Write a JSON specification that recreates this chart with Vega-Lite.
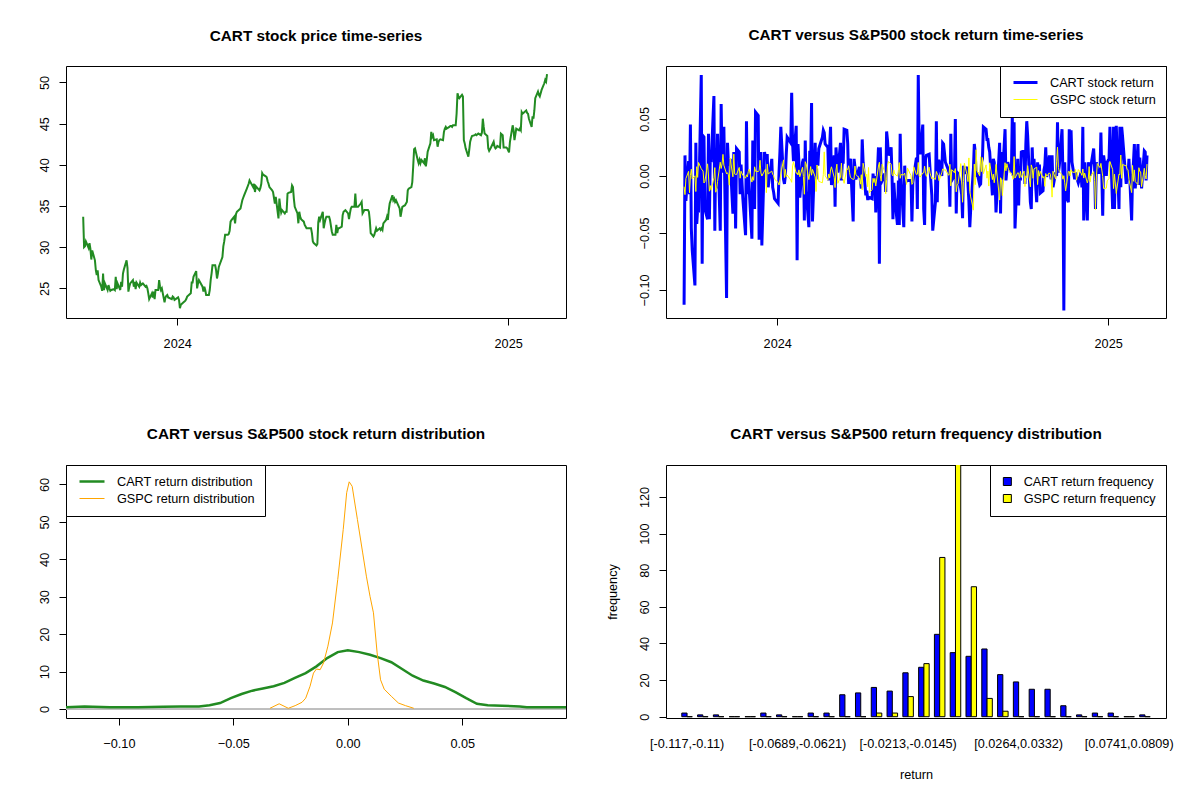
{
  "$schema": "https://vega.github.io/schema/vega-lite/v6.json",
  "background": "white",
  "padding": {"left": 37, "top": 27, "right": 5, "bottom": 5},
  "bounds": "flush",
  "columns": 2,
  "spacing": {"row": 147, "column": 100},
  "resolve": {
    "scale": {"x": "independent", "y": "independent", "color": "independent", "strokeWidth": "independent", "xOffset": "independent"},
    "legend": {"color": "independent", "strokeWidth": "independent"}
  },
  "config": {
    "font": "Liberation Sans",
    "view": {"stroke": "black", "strokeWidth": 1, "fill": "white"},
    "axis": {
      "grid": false, "domain": false, "tickColor": "black", "tickSize": 7, "tickWidth": 1,
      "labelColor": "black", "labelFont": "Liberation Sans", "labelFontSize": 12.7,
      "titleFont": "Liberation Sans", "titleFontSize": 12.7, "titleFontWeight": "normal", "titleColor": "black",
      "labelOverlap": false, "labelFlush": false
    },
    "axisX": {"labelPadding": 12, "labelAngle": 0},
    "axisY": {"labelAngle": -90, "labelAlign": "center", "labelBaseline": "alphabetic", "labelPadding": 11},
    "title": {"font": "Liberation Sans", "fontSize": 15.3, "fontWeight": "bold", "color": "black", "anchor": "middle", "frame": "group", "offset": 22},
    "legend": {
      "labelFont": "Liberation Sans", "labelFontSize": 12.7, "labelColor": "black", "labelLimit": 300,
      "strokeColor": "black", "fillColor": "white", "padding": 10, "offset": 0,
      "rowPadding": 3, "labelOffset": 11, "symbolOffset": 2, "clipHeight": 13
    }
  },
  "datasets": {
    "daily": [
      {"d":"2023-09-19","p":33.7,"c":null,"g":null},
      {"d":"2023-09-20","p":30.0,"c":-0.113,"g":-0.0094},
      {"d":"2023-09-21","p":30.1,"c":0.018,"g":-0.0164},
      {"d":"2023-09-22","p":30.7,"c":-0.022,"g":-0.0023},
      {"d":"2023-09-25","p":29.9,"c":0.013,"g":0.0040},
      {"d":"2023-09-26","p":30.5,"c":-0.016,"g":-0.0147},
      {"d":"2023-09-27","p":29.8,"c":0.045,"g":0.0002},
      {"d":"2023-09-28","p":28.5,"c":-0.046,"g":0.0059},
      {"d":"2023-09-29","p":29.6,"c":-0.065,"g":-0.0027},
      {"d":"2023-10-02","p":28.4,"c":-0.096,"g":0.0001},
      {"d":"2023-10-03","p":27.2,"c":0.029,"g":-0.0137},
      {"d":"2023-10-04","p":26.6,"c":-0.042,"g":0.0081},
      {"d":"2023-10-05","p":27.2,"c":-0.029,"g":-0.0013},
      {"d":"2023-10-06","p":26.0,"c":-0.032,"g":0.0118},
      {"d":"2023-10-09","p":25.2,"c":0.0885,"g":0.0063},
      {"d":"2023-10-10","p":24.7,"c":-0.077,"g":0.0052},
      {"d":"2023-10-11","p":26.8,"c":0.035,"g":0.0043},
      {"d":"2023-10-12","p":24.8,"c":0.034,"g":-0.0062},
      {"d":"2023-10-13","p":25.6,"c":-0.029,"g":-0.0050},
      {"d":"2023-10-16","p":24.8,"c":-0.038,"g":0.0106},
      {"d":"2023-10-17","p":25.4,"c":0.037,"g":-0.0001},
      {"d":"2023-10-18","p":25.0,"c":-0.038,"g":-0.0134},
      {"d":"2023-10-19","p":24.7,"c":0.018,"g":-0.0085},
      {"d":"2023-10-20","p":24.8,"c":0.012,"g":-0.0126},
      {"d":"2023-10-23","p":24.9,"c":0.070,"g":-0.0017},
      {"d":"2023-10-24","p":24.8,"c":-0.048,"g":0.0073},
      {"d":"2023-10-25","p":26.4,"c":0.024,"g":-0.0143},
      {"d":"2023-10-26","p":24.9,"c":-0.011,"g":-0.0118},
      {"d":"2023-10-27","p":25.6,"c":0.037,"g":-0.0048},
      {"d":"2023-10-30","p":24.8,"c":-0.048,"g":0.0120},
      {"d":"2023-10-31","p":25.8,"c":0.063,"g":0.0065},
      {"d":"2023-11-01","p":25.2,"c":0.012,"g":0.0105},
      {"d":"2023-11-02","p":26.8,"c":0.003,"g":0.0189},
      {"d":"2023-11-03","p":27.3,"c":0.043,"g":0.0094},
      {"d":"2023-11-06","p":28.4,"c":-0.107,"g":0.0018},
      {"d":"2023-11-07","p":27.5,"c":0.029,"g":0.0028},
      {"d":"2023-11-08","p":24.6,"c":0.012,"g":0.0010},
      {"d":"2023-11-09","p":25.2,"c":0.009,"g":-0.0081},
      {"d":"2023-11-10","p":25.6,"c":0.015,"g":0.0156},
      {"d":"2023-11-13","p":26.0,"c":-0.033,"g":-0.0008},
      {"d":"2023-11-14","p":25.2,"c":0.021,"g":0.0191},
      {"d":"2023-11-15","p":25.8,"c":0.015,"g":0.0016},
      {"d":"2023-11-16","p":24.9,"c":-0.046,"g":0.0012},
      {"d":"2023-11-17","p":25.7,"c":0.024,"g":0.0013},
      {"d":"2023-11-20","p":25.2,"c":0.021,"g":0.0074},
      {"d":"2023-11-21","p":25.7,"c":-0.016,"g":-0.0020},
      {"d":"2023-11-22","p":25.4,"c":0.010,"g":0.0041},
      {"d":"2023-11-24","p":25.6,"c":-0.020,"g":0.0006},
      {"d":"2023-11-27","p":25.2,"c":-0.052,"g":-0.0020},
      {"d":"2023-11-28","p":25.3,"c":0.048,"g":0.0010},
      {"d":"2023-11-29","p":25.0,"c":-0.016,"g":-0.0009},
      {"d":"2023-11-30","p":24.4,"c":0.005,"g":0.0038},
      {"d":"2023-12-01","p":23.7,"c":-0.011,"g":0.0059},
      {"d":"2023-12-04","p":24.4,"c":-0.055,"g":-0.0054},
      {"d":"2023-12-05","p":23.9,"c":0.031,"g":-0.0006},
      {"d":"2023-12-06","p":24.6,"c":0.006,"g":-0.0039},
      {"d":"2023-12-07","p":23.7,"c":-0.029,"g":0.0080},
      {"d":"2023-12-08","p":24.8,"c":0.056,"g":0.0041},
      {"d":"2023-12-11","p":24.8,"c":0.053,"g":0.0039},
      {"d":"2023-12-12","p":26.0,"c":-0.056,"g":0.0046},
      {"d":"2023-12-13","p":25.2,"c":-0.029,"g":0.0137},
      {"d":"2023-12-14","p":24.8,"c":0.021,"g":0.0026},
      {"d":"2023-12-15","p":25.0,"c":-0.061,"g":-0.0001},
      {"d":"2023-12-18","p":23.3,"c":0.021,"g":0.0045},
      {"d":"2023-12-19","p":23.9,"c":0.015,"g":0.0059},
      {"d":"2023-12-20","p":24.1,"c":0.018,"g":-0.0147},
      {"d":"2023-12-21","p":24.2,"c":0.018,"g":0.0103},
      {"d":"2023-12-22","p":23.9,"c":-0.010,"g":0.0017},
      {"d":"2023-12-26","p":23.7,"c":0.015,"g":0.0042},
      {"d":"2023-12-27","p":24.0,"c":-0.010,"g":0.0014},
      {"d":"2023-12-28","p":23.9,"c":-0.014,"g":0.0004},
      {"d":"2023-12-29","p":23.6,"c":-0.020,"g":-0.0028},
      {"d":"2024-01-02","p":23.9,"c":-0.024,"g":-0.0057},
      {"d":"2024-01-03","p":23.6,"c":0.003,"g":-0.0080},
      {"d":"2024-01-04","p":22.6,"c":0.021,"g":-0.0034},
      {"d":"2024-01-05","p":23.0,"c":0.043,"g":0.0018},
      {"d":"2024-01-08","p":23.3,"c":-0.003,"g":0.0141},
      {"d":"2024-01-09","p":23.4,"c":-0.007,"g":-0.0015},
      {"d":"2024-01-10","p":23.5,"c":0.0,"g":0.0057},
      {"d":"2024-01-11","p":23.7,"c":0.019,"g":-0.0007},
      {"d":"2024-01-12","p":24.0,"c":0.034,"g":0.0008},
      {"d":"2024-01-16","p":24.4,"c":0.029,"g":-0.0037},
      {"d":"2024-01-17","p":25.7,"c":0.073,"g":-0.0056},
      {"d":"2024-01-18","p":25.7,"c":0.029,"g":0.0088},
      {"d":"2024-01-19","p":26.4,"c":0.013,"g":0.0123},
      {"d":"2024-01-22","p":27.1,"c":0.044,"g":0.0022},
      {"d":"2024-01-23","p":25.0,"c":-0.074,"g":0.0029},
      {"d":"2024-01-24","p":25.6,"c":0.028,"g":0.0008},
      {"d":"2024-01-25","p":26.0,"c":0.012,"g":0.0053},
      {"d":"2024-01-26","p":25.8,"c":-0.019,"g":-0.0007},
      {"d":"2024-01-29","p":25.2,"c":0.012,"g":0.0076},
      {"d":"2024-01-30","p":24.6,"c":0.015,"g":-0.0006},
      {"d":"2024-01-31","p":25.2,"c":-0.039,"g":-0.0161},
      {"d":"2024-02-01","p":24.8,"c":0.031,"g":0.0125},
      {"d":"2024-02-02","p":24.2,"c":-0.013,"g":0.0107},
      {"d":"2024-02-05","p":24.2,"c":-0.045,"g":-0.0032},
      {"d":"2024-02-06","p":24.8,"c":0.022,"g":0.0023},
      {"d":"2024-02-07","p":26.0,"c":0.012,"g":0.0082},
      {"d":"2024-02-08","p":26.8,"c":0.064,"g":0.0006},
      {"d":"2024-02-09","p":27.8,"c":-0.040,"g":0.0057},
      {"d":"2024-02-12","p":27.8,"c":0.029,"g":-0.0009},
      {"d":"2024-02-13","p":27.2,"c":-0.003,"g":-0.0137},
      {"d":"2024-02-14","p":26.2,"c":0.021,"g":0.0096},
      {"d":"2024-02-15","p":26.8,"c":0.009,"g":0.0058},
      {"d":"2024-02-16","p":27.6,"c":0.024,"g":-0.0048},
      {"d":"2024-02-20","p":28.8,"c":0.034,"g":-0.0060},
      {"d":"2024-02-21","p":30.1,"c":0.040,"g":0.0013},
      {"d":"2024-02-22","p":30.7,"c":0.038,"g":0.0211},
      {"d":"2024-02-23","p":31.5,"c":0.028,"g":0.0003},
      {"d":"2024-02-26","p":31.5,"c":0.025,"g":-0.0038},
      {"d":"2024-02-27","p":31.6,"c":-0.004,"g":0.0017},
      {"d":"2024-02-28","p":32.0,"c":0.026,"g":-0.0017},
      {"d":"2024-02-29","p":33.1,"c":0.043,"g":0.0052},
      {"d":"2024-03-01","p":33.3,"c":-0.008,"g":0.0080},
      {"d":"2024-03-04","p":33.7,"c":0.018,"g":-0.0012},
      {"d":"2024-03-05","p":32.9,"c":-0.027,"g":-0.0102},
      {"d":"2024-03-06","p":34.0,"c":0.025,"g":0.0051},
      {"d":"2024-03-07","p":34.3,"c":0.012,"g":0.0103},
      {"d":"2024-03-08","p":34.4,"c":0.003,"g":-0.0065},
      {"d":"2024-03-11","p":34.7,"c":0.029,"g":-0.0011},
      {"d":"2024-03-12","p":35.2,"c":-0.004,"g":0.0112},
      {"d":"2024-03-13","p":35.7,"c":0.012,"g":-0.0019},
      {"d":"2024-03-14","p":36.0,"c":0.012,"g":-0.0029},
      {"d":"2024-03-15","p":36.3,"c":0.041,"g":-0.0065},
      {"d":"2024-03-18","p":37.1,"c":0.040,"g":0.0063},
      {"d":"2024-03-19","p":37.4,"c":0.028,"g":0.0056},
      {"d":"2024-03-20","p":37.7,"c":-0.007,"g":0.0089},
      {"d":"2024-03-21","p":38.1,"c":0.013,"g":0.0032},
      {"d":"2024-03-22","p":37.9,"c":0.015,"g":-0.0014},
      {"d":"2024-03-25","p":37.3,"c":-0.040,"g":-0.0031},
      {"d":"2024-03-26","p":37.7,"c":0.015,"g":-0.0028},
      {"d":"2024-03-27","p":36.7,"c":0.008,"g":0.0086},
      {"d":"2024-03-28","p":37.4,"c":-0.003,"g":0.0011},
      {"d":"2024-04-01","p":36.9,"c":0.008,"g":-0.0020},
      {"d":"2024-04-02","p":37.2,"c":-0.004,"g":-0.0072},
      {"d":"2024-04-03","p":37.7,"c":-0.011,"g":0.0011},
      {"d":"2024-04-04","p":39.0,"c":0.032,"g":-0.0123},
      {"d":"2024-04-05","p":38.8,"c":0.012,"g":0.0111},
      {"d":"2024-04-08","p":38.6,"c":-0.017,"g":-0.0004},
      {"d":"2024-04-09","p":38.5,"c":-0.013,"g":0.0014},
      {"d":"2024-04-10","p":38.0,"c":-0.020,"g":-0.0095},
      {"d":"2024-04-11","p":37.7,"c":-0.020,"g":0.0074},
      {"d":"2024-04-12","p":37.3,"c":-0.019,"g":-0.0146},
      {"d":"2024-04-15","p":36.9,"c":-0.020,"g":-0.0120},
      {"d":"2024-04-16","p":36.7,"c":0.002,"g":-0.0021},
      {"d":"2024-04-17","p":36.0,"c":-0.006,"g":-0.0058},
      {"d":"2024-04-18","p":35.3,"c":0.0,"g":-0.0022},
      {"d":"2024-04-19","p":36.1,"c":-0.032,"g":-0.0088},
      {"d":"2024-04-22","p":33.5,"c":0.025,"g":0.0087},
      {"d":"2024-04-23","p":35.9,"c":-0.077,"g":0.0120},
      {"d":"2024-04-24","p":34.9,"c":0.025,"g":0.0002},
      {"d":"2024-04-25","p":34.2,"c":-0.001,"g":-0.0046},
      {"d":"2024-04-26","p":34.5,"c":-0.004,"g":0.0102},
      {"d":"2024-04-29","p":34.1,"c":0.002,"g":0.0032},
      {"d":"2024-04-30","p":34.3,"c":-0.014,"g":-0.0157},
      {"d":"2024-05-01","p":34.3,"c":0.039,"g":-0.0034},
      {"d":"2024-05-02","p":36.5,"c":0.031,"g":0.0091},
      {"d":"2024-05-03","p":36.6,"c":0.018,"g":0.0126},
      {"d":"2024-05-06","p":36.7,"c":0.025,"g":0.0103},
      {"d":"2024-05-07","p":37.5,"c":0.0,"g":0.0013},
      {"d":"2024-05-08","p":37.3,"c":-0.038,"g":0.0000},
      {"d":"2024-05-09","p":35.9,"c":-0.006,"g":0.0051},
      {"d":"2024-05-10","p":34.9,"c":-0.019,"g":0.0016},
      {"d":"2024-05-13","p":34.1,"c":-0.043,"g":-0.0002},
      {"d":"2024-05-14","p":32.9,"c":-0.004,"g":0.0048},
      {"d":"2024-05-15","p":34.3,"c":-0.043,"g":0.0117},
      {"d":"2024-05-16","p":33.7,"c":0.037,"g":-0.0021},
      {"d":"2024-05-17","p":33.4,"c":-0.003,"g":0.0012},
      {"d":"2024-05-20","p":33.1,"c":-0.045,"g":0.0009},
      {"d":"2024-05-21","p":32.7,"c":0.009,"g":0.0025},
      {"d":"2024-05-22","p":32.5,"c":-0.006,"g":-0.0027},
      {"d":"2024-05-23","p":32.3,"c":-0.004,"g":-0.0074},
      {"d":"2024-05-24","p":32.3,"c":-0.004,"g":0.0070},
      {"d":"2024-05-28","p":32.3,"c":-0.004,"g":0.0002},
      {"d":"2024-05-29","p":31.7,"c":-0.040,"g":-0.0074},
      {"d":"2024-05-30","p":30.7,"c":-0.006,"g":-0.0060},
      {"d":"2024-05-31","p":30.5,"c":0.0,"g":0.0080},
      {"d":"2024-06-03","p":30.2,"c":0.016,"g":0.0011},
      {"d":"2024-06-04","p":30.4,"c":-0.029,"g":0.0015},
      {"d":"2024-06-05","p":33.0,"c":0.0885,"g":0.0118},
      {"d":"2024-06-06","p":33.7,"c":0.026,"g":-0.0002},
      {"d":"2024-06-07","p":33.3,"c":0.019,"g":-0.0011},
      {"d":"2024-06-10","p":34.3,"c":0.045,"g":0.0026},
      {"d":"2024-06-11","p":32.3,"c":-0.029,"g":0.0027},
      {"d":"2024-06-12","p":32.9,"c":-0.043,"g":0.0085},
      {"d":"2024-06-13","p":33.4,"c":0.015,"g":0.0023},
      {"d":"2024-06-14","p":33.7,"c":0.018,"g":-0.0004},
      {"d":"2024-06-17","p":33.7,"c":0.019,"g":0.0077},
      {"d":"2024-06-18","p":33.3,"c":0.006,"g":0.0025},
      {"d":"2024-06-20","p":31.9,"c":-0.017,"g":-0.0025},
      {"d":"2024-06-21","p":31.5,"c":-0.048,"g":-0.0016},
      {"d":"2024-06-24","p":31.5,"c":-0.023,"g":-0.0031},
      {"d":"2024-06-25","p":32.7,"c":0.048,"g":0.0039},
      {"d":"2024-06-26","p":31.7,"c":-0.023,"g":0.0016},
      {"d":"2024-06-27","p":32.3,"c":0.013,"g":0.0009},
      {"d":"2024-06-28","p":32.3,"c":0.013,"g":-0.0041},
      {"d":"2024-07-01","p":32.5,"c":0.0,"g":0.0027},
      {"d":"2024-07-02","p":33.9,"c":0.029,"g":0.0062},
      {"d":"2024-07-03","p":34.3,"c":0.028,"g":0.0051},
      {"d":"2024-07-05","p":34.5,"c":0.012,"g":0.0054},
      {"d":"2024-07-08","p":34.1,"c":0.006,"g":0.0010},
      {"d":"2024-07-09","p":33.4,"c":0.003,"g":0.0007},
      {"d":"2024-07-10","p":34.1,"c":-0.027,"g":0.0102},
      {"d":"2024-07-11","p":34.7,"c":0.037,"g":-0.0088},
      {"d":"2024-07-12","p":34.9,"c":-0.004,"g":0.0055},
      {"d":"2024-07-15","p":34.9,"c":0.0,"g":0.0028},
      {"d":"2024-07-16","p":36.5,"c":0.050,"g":0.0064},
      {"d":"2024-07-17","p":34.9,"c":-0.033,"g":-0.0139},
      {"d":"2024-07-18","p":34.9,"c":0.003,"g":-0.0078},
      {"d":"2024-07-19","p":34.9,"c":0.002,"g":-0.0071},
      {"d":"2024-07-22","p":35.3,"c":-0.011,"g":0.0108},
      {"d":"2024-07-23","p":35.5,"c":-0.016,"g":-0.0016},
      {"d":"2024-07-24","p":34.1,"c":-0.037,"g":-0.0231},
      {"d":"2024-07-25","p":34.3,"c":0.009,"g":-0.0051},
      {"d":"2024-07-26","p":34.5,"c":0.002,"g":0.0111},
      {"d":"2024-07-29","p":34.5,"c":0.008,"g":0.0008},
      {"d":"2024-07-30","p":34.5,"c":-0.008,"g":-0.0050},
      {"d":"2024-07-31","p":34.3,"c":-0.022,"g":0.0158},
      {"d":"2024-08-01","p":33.3,"c":-0.045,"g":-0.0137},
      {"d":"2024-08-02","p":31.7,"c":-0.029,"g":-0.0184},
      {"d":"2024-08-05","p":31.3,"c":0.006,"g":-0.0300},
      {"d":"2024-08-06","p":31.5,"c":0.028,"g":0.0104},
      {"d":"2024-08-07","p":31.9,"c":0.021,"g":-0.0077},
      {"d":"2024-08-08","p":32.3,"c":-0.001,"g":0.0230},
      {"d":"2024-08-09","p":32.0,"c":0.003,"g":0.0047},
      {"d":"2024-08-12","p":32.3,"c":-0.008,"g":0.0000},
      {"d":"2024-08-13","p":32.1,"c":-0.007,"g":0.0168},
      {"d":"2024-08-14","p":32.3,"c":0.012,"g":0.0038},
      {"d":"2024-08-15","p":32.1,"c":0.015,"g":0.0161},
      {"d":"2024-08-16","p":32.9,"c":0.043,"g":0.0020},
      {"d":"2024-08-19","p":33.3,"c":0.041,"g":0.0097},
      {"d":"2024-08-20","p":33.7,"c":0.032,"g":-0.0020},
      {"d":"2024-08-21","p":33.3,"c":0.032,"g":0.0042},
      {"d":"2024-08-22","p":34.5,"c":0.025,"g":-0.0089},
      {"d":"2024-08-23","p":35.3,"c":0.021,"g":0.0115},
      {"d":"2024-08-26","p":36.3,"c":-0.017,"g":-0.0032},
      {"d":"2024-08-27","p":35.7,"c":0.015,"g":0.0016},
      {"d":"2024-08-28","p":35.9,"c":0.012,"g":-0.0060},
      {"d":"2024-08-29","p":35.5,"c":-0.004,"g":0.0000},
      {"d":"2024-08-30","p":35.7,"c":-0.032,"g":0.0101},
      {"d":"2024-09-03","p":34.7,"c":0.029,"g":-0.0212},
      {"d":"2024-09-04","p":33.7,"c":-0.033,"g":-0.0016},
      {"d":"2024-09-05","p":34.3,"c":0.021,"g":-0.0030},
      {"d":"2024-09-06","p":34.9,"c":-0.003,"g":-0.0173},
      {"d":"2024-09-09","p":35.1,"c":0.041,"g":0.0116},
      {"d":"2024-09-10","p":35.3,"c":-0.004,"g":0.0045},
      {"d":"2024-09-11","p":35.5,"c":0.005,"g":0.0107},
      {"d":"2024-09-12","p":36.9,"c":0.012,"g":0.0075},
      {"d":"2024-09-13","p":37.1,"c":0.009,"g":0.0054},
      {"d":"2024-09-16","p":37.3,"c":0.003,"g":0.0013},
      {"d":"2024-09-17","p":37.9,"c":0.053,"g":0.0003},
      {"d":"2024-09-18","p":39.8,"c":0.0,"g":-0.0029},
      {"d":"2024-09-19","p":41.9,"c":0.047,"g":0.0170},
      {"d":"2024-09-20","p":42.0,"c":-0.046,"g":-0.0019},
      {"d":"2024-09-23","p":40.6,"c":0.015,"g":0.0028},
      {"d":"2024-09-24","p":40.2,"c":-0.026,"g":0.0025},
      {"d":"2024-09-25","p":40.6,"c":0.003,"g":-0.0019},
      {"d":"2024-09-26","p":40.2,"c":-0.004,"g":0.0040},
      {"d":"2024-09-27","p":40.6,"c":0.021,"g":-0.0013},
      {"d":"2024-09-30","p":40.2,"c":0.022,"g":0.0042},
      {"d":"2024-10-01","p":40.8,"c":-0.007,"g":-0.0093},
      {"d":"2024-10-02","p":39.8,"c":0.028,"g":0.0001},
      {"d":"2024-10-03","p":40.6,"c":0.048,"g":-0.0017},
      {"d":"2024-10-04","p":41.6,"c":0.035,"g":0.0090},
      {"d":"2024-10-07","p":42.6,"c":-0.023,"g":-0.0096},
      {"d":"2024-10-08","p":44.0,"c":-0.029,"g":0.0097},
      {"d":"2024-10-09","p":43.4,"c":0.025,"g":0.0071},
      {"d":"2024-10-10","p":43.6,"c":0.002,"g":-0.0021},
      {"d":"2024-10-11","p":43.0,"c":0.015,"g":0.0061},
      {"d":"2024-10-14","p":43.1,"c":-0.023,"g":0.0077},
      {"d":"2024-10-15","p":42.2,"c":0.012,"g":-0.0076},
      {"d":"2024-10-16","p":42.8,"c":-0.006,"g":0.0047},
      {"d":"2024-10-17","p":43.0,"c":0.010,"g":-0.0002},
      {"d":"2024-10-18","p":43.1,"c":-0.015,"g":0.0040},
      {"d":"2024-10-21","p":43.0,"c":-0.013,"g":-0.0018},
      {"d":"2024-10-22","p":44.0,"c":0.005,"g":-0.0005},
      {"d":"2024-10-23","p":44.4,"c":0.009,"g":-0.0092},
      {"d":"2024-10-24","p":44.6,"c":0.025,"g":0.0021},
      {"d":"2024-10-25","p":44.4,"c":-0.001,"g":-0.0003},
      {"d":"2024-10-28","p":44.6,"c":0.018,"g":0.0027},
      {"d":"2024-10-29","p":44.7,"c":0.003,"g":0.0016},
      {"d":"2024-10-30","p":44.7,"c":-0.003,"g":-0.0033},
      {"d":"2024-10-31","p":44.6,"c":0.018,"g":-0.0186},
      {"d":"2024-11-01","p":44.8,"c":-0.010,"g":0.0041},
      {"d":"2024-11-04","p":44.8,"c":0.003,"g":-0.0028},
      {"d":"2024-11-05","p":46.2,"c":0.0,"g":0.0123},
      {"d":"2024-11-06","p":48.7,"c":0.047,"g":0.0253},
      {"d":"2024-11-07","p":48.3,"c":0.003,"g":0.0074},
      {"d":"2024-11-08","p":48.1,"c":0.009,"g":0.0038},
      {"d":"2024-11-11","p":48.5,"c":0.041,"g":0.0010},
      {"d":"2024-11-12","p":48.3,"c":0.002,"g":-0.0029},
      {"d":"2024-11-13","p":43.0,"c":-0.118,"g":0.0002},
      {"d":"2024-11-14","p":42.6,"c":0.012,"g":-0.0060},
      {"d":"2024-11-15","p":42.0,"c":-0.017,"g":-0.0132},
      {"d":"2024-11-18","p":41.0,"c":-0.023,"g":0.0039},
      {"d":"2024-11-19","p":41.8,"c":0.041,"g":0.0040},
      {"d":"2024-11-20","p":42.8,"c":0.012,"g":0.0000},
      {"d":"2024-11-21","p":43.2,"c":0.040,"g":0.0053},
      {"d":"2024-11-22","p":43.5,"c":0.012,"g":0.0035},
      {"d":"2024-11-25","p":43.6,"c":-0.003,"g":0.0030},
      {"d":"2024-11-26","p":43.7,"c":0.003,"g":0.0057},
      {"d":"2024-11-27","p":43.6,"c":-0.001,"g":-0.0038},
      {"d":"2024-11-29","p":43.8,"c":-0.006,"g":0.0056},
      {"d":"2024-12-02","p":43.6,"c":0.003,"g":0.0024},
      {"d":"2024-12-03","p":43.9,"c":-0.010,"g":0.0005},
      {"d":"2024-12-04","p":45.6,"c":0.043,"g":0.0061},
      {"d":"2024-12-05","p":44.6,"c":-0.039,"g":-0.0019},
      {"d":"2024-12-06","p":43.8,"c":0.012,"g":0.0025},
      {"d":"2024-12-09","p":43.5,"c":-0.039,"g":-0.0061},
      {"d":"2024-12-10","p":42.0,"c":0.012,"g":-0.0030},
      {"d":"2024-12-11","p":41.7,"c":0.002,"g":0.0082},
      {"d":"2024-12-12","p":41.9,"c":0.0,"g":-0.0054},
      {"d":"2024-12-13","p":42.1,"c":0.009,"g":0.0000},
      {"d":"2024-12-16","p":42.8,"c":0.024,"g":0.0038},
      {"d":"2024-12-17","p":42.2,"c":0.008,"g":-0.0039},
      {"d":"2024-12-18","p":42.0,"c":-0.029,"g":-0.0295},
      {"d":"2024-12-19","p":42.1,"c":0.012,"g":-0.0009},
      {"d":"2024-12-20","p":42.3,"c":0.003,"g":0.0109},
      {"d":"2024-12-23","p":42.1,"c":0.003,"g":0.0073},
      {"d":"2024-12-24","p":43.8,"c":0.038,"g":0.0110},
      {"d":"2024-12-26","p":43.6,"c":-0.035,"g":-0.0004},
      {"d":"2024-12-27","p":42.1,"c":0.018,"g":-0.0111},
      {"d":"2024-12-30","p":42.1,"c":0.0,"g":-0.0107},
      {"d":"2024-12-31","p":42.0,"c":0.012,"g":-0.0043},
      {"d":"2025-01-02","p":41.5,"c":0.015,"g":-0.0022},
      {"d":"2025-01-03","p":42.8,"c":0.043,"g":0.0126},
      {"d":"2025-01-06","p":44.8,"c":-0.029,"g":0.0055},
      {"d":"2025-01-07","p":44.2,"c":0.043,"g":-0.0111},
      {"d":"2025-01-08","p":43.0,"c":-0.029,"g":0.0016},
      {"d":"2025-01-10","p":44.4,"c":0.044,"g":-0.0154},
      {"d":"2025-01-13","p":44.2,"c":-0.029,"g":0.0016},
      {"d":"2025-01-14","p":44.4,"c":0.043,"g":0.0011},
      {"d":"2025-01-15","p":44.2,"c":-0.010,"g":0.0183},
      {"d":"2025-01-16","p":46.4,"c":0.043,"g":-0.0021},
      {"d":"2025-01-17","p":46.2,"c":0.034,"g":0.0100},
      {"d":"2025-01-21","p":46.6,"c":-0.007,"g":0.0088},
      {"d":"2025-01-22","p":46.3,"c":-0.001,"g":0.0061},
      {"d":"2025-01-23","p":46.2,"c":0.0,"g":0.0053},
      {"d":"2025-01-24","p":45.6,"c":0.015,"g":-0.0029},
      {"d":"2025-01-27","p":44.6,"c":-0.039,"g":-0.0146},
      {"d":"2025-01-28","p":45.9,"c":0.0,"g":0.0092},
      {"d":"2025-01-29","p":45.6,"c":0.012,"g":-0.0047},
      {"d":"2025-01-30","p":46.6,"c":0.028,"g":0.0053},
      {"d":"2025-01-31","p":48.1,"c":-0.011,"g":-0.0050},
      {"d":"2025-02-03","p":48.9,"c":0.028,"g":-0.0076},
      {"d":"2025-02-04","p":48.5,"c":-0.008,"g":0.0072},
      {"d":"2025-02-05","p":48.3,"c":0.016,"g":0.0039},
      {"d":"2025-02-06","p":48.7,"c":0.003,"g":0.0036},
      {"d":"2025-02-07","p":49.1,"c":-0.011,"g":-0.0095},
      {"d":"2025-02-10","p":49.9,"c":0.022,"g":0.0067},
      {"d":"2025-02-11","p":50.3,"c":0.021,"g":0.0003},
      {"d":"2025-02-12","p":50.1,"c":-0.004,"g":-0.0027},
      {"d":"2025-02-13","p":51.0,"c":0.018,"g":0.0104}
    ],
    "dens": [
      {"s":"CART return distribution","x":-0.1231,"y":0.5},
      {"s":"CART return distribution","x":-0.115,"y":0.7},
      {"s":"CART return distribution","x":-0.104,"y":0.5},
      {"s":"CART return distribution","x":-0.0916,"y":0.45},
      {"s":"CART return distribution","x":-0.0807,"y":0.6},
      {"s":"CART return distribution","x":-0.0729,"y":0.7},
      {"s":"CART return distribution","x":-0.065,"y":0.7},
      {"s":"CART return distribution","x":-0.0604,"y":1.0},
      {"s":"CART return distribution","x":-0.0558,"y":1.6},
      {"s":"CART return distribution","x":-0.0511,"y":2.9},
      {"s":"CART return distribution","x":-0.0464,"y":4.0},
      {"s":"CART return distribution","x":-0.0417,"y":4.9},
      {"s":"CART return distribution","x":-0.0371,"y":5.5},
      {"s":"CART return distribution","x":-0.0324,"y":6.1},
      {"s":"CART return distribution","x":-0.0277,"y":7.0},
      {"s":"CART return distribution","x":-0.0231,"y":8.3},
      {"s":"CART return distribution","x":-0.0184,"y":9.6},
      {"s":"CART return distribution","x":-0.0137,"y":11.4},
      {"s":"CART return distribution","x":-0.009,"y":13.6},
      {"s":"CART return distribution","x":-0.0044,"y":15.2},
      {"s":"CART return distribution","x":0.0,"y":15.7},
      {"s":"CART return distribution","x":0.005,"y":15.2},
      {"s":"CART return distribution","x":0.0097,"y":14.5},
      {"s":"CART return distribution","x":0.0143,"y":13.6},
      {"s":"CART return distribution","x":0.019,"y":12.5},
      {"s":"CART return distribution","x":0.0237,"y":10.7},
      {"s":"CART return distribution","x":0.0283,"y":8.9},
      {"s":"CART return distribution","x":0.033,"y":7.6},
      {"s":"CART return distribution","x":0.0377,"y":6.8},
      {"s":"CART return distribution","x":0.0424,"y":5.9},
      {"s":"CART return distribution","x":0.047,"y":4.5},
      {"s":"CART return distribution","x":0.0517,"y":2.9},
      {"s":"CART return distribution","x":0.0564,"y":1.4},
      {"s":"CART return distribution","x":0.0611,"y":1.0},
      {"s":"CART return distribution","x":0.0673,"y":0.9},
      {"s":"CART return distribution","x":0.0751,"y":0.7},
      {"s":"CART return distribution","x":0.0782,"y":0.5},
      {"s":"CART return distribution","x":0.0953,"y":0.45},
      {"s":"GSPC return distribution","x":-0.034,"y":0.2},
      {"s":"GSPC return distribution","x":-0.030,"y":1.4},
      {"s":"GSPC return distribution","x":-0.026,"y":0.2},
      {"s":"GSPC return distribution","x":-0.023,"y":0.9},
      {"s":"GSPC return distribution","x":-0.020,"y":1.8},
      {"s":"GSPC return distribution","x":-0.0184,"y":2.9},
      {"s":"GSPC return distribution","x":-0.0165,"y":6.1},
      {"s":"GSPC return distribution","x":-0.015,"y":9.6},
      {"s":"GSPC return distribution","x":-0.0137,"y":10.7},
      {"s":"GSPC return distribution","x":-0.0121,"y":10.5},
      {"s":"GSPC return distribution","x":-0.0106,"y":12.3},
      {"s":"GSPC return distribution","x":-0.0087,"y":16.8},
      {"s":"GSPC return distribution","x":-0.0067,"y":23.0},
      {"s":"GSPC return distribution","x":-0.0044,"y":34.6},
      {"s":"GSPC return distribution","x":-0.002,"y":48.0},
      {"s":"GSPC return distribution","x":-0.0005,"y":57.8},
      {"s":"GSPC return distribution","x":0.0006,"y":60.7},
      {"s":"GSPC return distribution","x":0.0019,"y":59.5},
      {"s":"GSPC return distribution","x":0.0042,"y":50.6},
      {"s":"GSPC return distribution","x":0.0065,"y":41.7},
      {"s":"GSPC return distribution","x":0.0081,"y":35.5},
      {"s":"GSPC return distribution","x":0.0097,"y":30.1},
      {"s":"GSPC return distribution","x":0.0112,"y":25.7},
      {"s":"GSPC return distribution","x":0.0128,"y":15.0},
      {"s":"GSPC return distribution","x":0.0143,"y":7.8},
      {"s":"GSPC return distribution","x":0.0159,"y":5.3},
      {"s":"GSPC return distribution","x":0.019,"y":3.4},
      {"s":"GSPC return distribution","x":0.0221,"y":1.6},
      {"s":"GSPC return distribution","x":0.0252,"y":0.9},
      {"s":"GSPC return distribution","x":0.0288,"y":0.2}
    ],
    "hist": [
      {"i":0,"bin":"[-0.117,-0.11)","s":"CART return frequency","n":2},
      {"i":1,"bin":"[-0.11,-0.103)","s":"CART return frequency","n":1},
      {"i":2,"bin":"[-0.103,-0.0961)","s":"CART return frequency","n":1},
      {"i":3,"bin":"[-0.0961,-0.0893)","s":"CART return frequency","n":0},
      {"i":4,"bin":"[-0.0893,-0.0825)","s":"CART return frequency","n":0},
      {"i":5,"bin":"[-0.0825,-0.0757)","s":"CART return frequency","n":2},
      {"i":6,"bin":"[-0.0757,-0.0689)","s":"CART return frequency","n":1},
      {"i":7,"bin":"[-0.0689,-0.0621)","s":"CART return frequency","n":0},
      {"i":8,"bin":"[-0.0621,-0.0553)","s":"CART return frequency","n":2},
      {"i":9,"bin":"[-0.0553,-0.0485)","s":"CART return frequency","n":2},
      {"i":10,"bin":"[-0.0485,-0.0417)","s":"CART return frequency","n":12},
      {"i":11,"bin":"[-0.0417,-0.0349)","s":"CART return frequency","n":13},
      {"i":12,"bin":"[-0.0349,-0.0281)","s":"CART return frequency","n":16},
      {"i":13,"bin":"[-0.0281,-0.0213)","s":"CART return frequency","n":14},
      {"i":14,"bin":"[-0.0213,-0.0145)","s":"CART return frequency","n":24},
      {"i":15,"bin":"[-0.0145,-0.0077)","s":"CART return frequency","n":27},
      {"i":16,"bin":"[-0.0077,-0.00085)","s":"CART return frequency","n":45},
      {"i":17,"bin":"[-0.00085,0.00597)","s":"CART return frequency","n":35},
      {"i":18,"bin":"[0.00597,0.0128)","s":"CART return frequency","n":33},
      {"i":19,"bin":"[0.0128,0.0196)","s":"CART return frequency","n":37},
      {"i":20,"bin":"[0.0196,0.0264)","s":"CART return frequency","n":23},
      {"i":21,"bin":"[0.0264,0.0332)","s":"CART return frequency","n":19},
      {"i":22,"bin":"[0.0332,0.04)","s":"CART return frequency","n":15},
      {"i":23,"bin":"[0.04,0.0468)","s":"CART return frequency","n":15},
      {"i":24,"bin":"[0.0468,0.0536)","s":"CART return frequency","n":6},
      {"i":25,"bin":"[0.0536,0.0605)","s":"CART return frequency","n":1},
      {"i":26,"bin":"[0.0605,0.0673)","s":"CART return frequency","n":2},
      {"i":27,"bin":"[0.0673,0.0741)","s":"CART return frequency","n":2},
      {"i":28,"bin":"[0.0741,0.0809)","s":"CART return frequency","n":0},
      {"i":29,"bin":"[0.0809,0.0877]","s":"CART return frequency","n":1},
      {"i":0,"bin":"[-0.117,-0.11)","s":"GSPC return frequency","n":0},
      {"i":1,"bin":"[-0.11,-0.103)","s":"GSPC return frequency","n":0},
      {"i":2,"bin":"[-0.103,-0.0961)","s":"GSPC return frequency","n":0},
      {"i":3,"bin":"[-0.0961,-0.0893)","s":"GSPC return frequency","n":0},
      {"i":4,"bin":"[-0.0893,-0.0825)","s":"GSPC return frequency","n":0},
      {"i":5,"bin":"[-0.0825,-0.0757)","s":"GSPC return frequency","n":0},
      {"i":6,"bin":"[-0.0757,-0.0689)","s":"GSPC return frequency","n":0},
      {"i":7,"bin":"[-0.0689,-0.0621)","s":"GSPC return frequency","n":0},
      {"i":8,"bin":"[-0.0621,-0.0553)","s":"GSPC return frequency","n":0},
      {"i":9,"bin":"[-0.0553,-0.0485)","s":"GSPC return frequency","n":0},
      {"i":10,"bin":"[-0.0485,-0.0417)","s":"GSPC return frequency","n":0},
      {"i":11,"bin":"[-0.0417,-0.0349)","s":"GSPC return frequency","n":0},
      {"i":12,"bin":"[-0.0349,-0.0281)","s":"GSPC return frequency","n":2},
      {"i":13,"bin":"[-0.0281,-0.0213)","s":"GSPC return frequency","n":2},
      {"i":14,"bin":"[-0.0213,-0.0145)","s":"GSPC return frequency","n":11},
      {"i":15,"bin":"[-0.0145,-0.0077)","s":"GSPC return frequency","n":29},
      {"i":16,"bin":"[-0.0077,-0.00085)","s":"GSPC return frequency","n":87},
      {"i":17,"bin":"[-0.00085,0.00597)","s":"GSPC return frequency","n":138},
      {"i":18,"bin":"[0.00597,0.0128)","s":"GSPC return frequency","n":71},
      {"i":19,"bin":"[0.0128,0.0196)","s":"GSPC return frequency","n":10},
      {"i":20,"bin":"[0.0196,0.0264)","s":"GSPC return frequency","n":3},
      {"i":21,"bin":"[0.0264,0.0332)","s":"GSPC return frequency","n":0},
      {"i":22,"bin":"[0.0332,0.04)","s":"GSPC return frequency","n":0},
      {"i":23,"bin":"[0.04,0.0468)","s":"GSPC return frequency","n":0},
      {"i":24,"bin":"[0.0468,0.0536)","s":"GSPC return frequency","n":0},
      {"i":25,"bin":"[0.0536,0.0605)","s":"GSPC return frequency","n":0},
      {"i":26,"bin":"[0.0605,0.0673)","s":"GSPC return frequency","n":0},
      {"i":27,"bin":"[0.0673,0.0741)","s":"GSPC return frequency","n":0},
      {"i":28,"bin":"[0.0741,0.0809)","s":"GSPC return frequency","n":0},
      {"i":29,"bin":"[0.0809,0.0877]","s":"GSPC return frequency","n":0}
    ]
  },
  "concat": [
    {
      "width": 500,
      "height": 252,
      "title": {"text": "CART stock price time-series"},
      "data": {"name": "daily"},
      "mark": {"type": "line", "color": "#228B22", "strokeWidth": 2, "clip": true},
      "encoding": {
        "x": {
          "field": "d", "type": "temporal",
          "scale": {"type": "utc", "domain": [{"year": 2023, "month": 8, "date": 31, "utc": true}, {"year": 2025, "month": 3, "date": 6, "utc": true}]},
          "axis": {"title": null, "format": "%Y", "formatType": "utc", "values": [{"year": 2024, "month": 1, "date": 1, "utc": true}, {"year": 2025, "month": 1, "date": 1, "utc": true}]}
        },
        "y": {
          "field": "p", "type": "quantitative",
          "scale": {"domain": [21.4, 52.0], "nice": false, "zero": false},
          "axis": {"title": null, "values": [25, 30, 35, 40, 45, 50]}
        }
      }
    },
    {
      "width": 500,
      "height": 252,
      "title": {"text": "CART versus S&P500 stock return time-series"},
      "data": {"name": "daily"},
      "transform": [{"fold": ["c", "g"], "as": ["k", "v"]}],
      "mark": {"type": "line", "clip": true},
      "encoding": {
        "x": {
          "field": "d", "type": "temporal",
          "scale": {"type": "utc", "domain": [{"year": 2023, "month": 8, "date": 31, "utc": true}, {"year": 2025, "month": 3, "date": 6, "utc": true}]},
          "axis": {"title": null, "format": "%Y", "formatType": "utc", "values": [{"year": 2024, "month": 1, "date": 1, "utc": true}, {"year": 2025, "month": 1, "date": 1, "utc": true}]}
        },
        "y": {
          "field": "v", "type": "quantitative",
          "scale": {"domain": [-0.1246, 0.0964], "nice": false, "zero": false},
          "axis": {"title": null, "values": [-0.1, -0.05, 0, 0.05], "format": ".2f"}
        },
        "color": {
          "field": "k", "type": "nominal",
          "scale": {"domain": ["c", "g"], "range": ["#0000FF", "#FFFF00"]},
          "legend": {"title": null, "orient": "top-right", "symbolType": "stroke", "symbolSize": 576, "labelExpr": "datum.label == 'c' ? 'CART stock return' : 'GSPC stock return'"}
        },
        "strokeWidth": {
          "field": "k", "type": "nominal",
          "scale": {"domain": ["c", "g"], "range": [3, 1]},
          "legend": {"title": null, "orient": "top-right", "symbolType": "stroke", "symbolSize": 576, "labelExpr": "datum.label == 'c' ? 'CART stock return' : 'GSPC stock return'"}
        }
      }
    },
    {
      "width": 500,
      "height": 253,
      "title": {"text": "CART versus S&P500 stock return distribution"},
      "data": {"name": "dens"},
      "layer": [
        {
          "mark": {"type": "rule", "color": "#BEBEBE", "strokeWidth": 1},
          "encoding": {"y": {"datum": 0}}
        },
        {
          "mark": {"type": "line", "clip": true},
          "encoding": {
            "x": {
              "field": "x", "type": "quantitative",
              "scale": {"domain": [-0.1231, 0.0953], "nice": false, "zero": false},
              "axis": {"title": null, "values": [-0.1, -0.05, 0, 0.05], "format": ".2f"}
            },
            "y": {
              "field": "y", "type": "quantitative",
              "scale": {"domain": [-2.4, 65.2], "nice": false, "zero": false},
              "axis": {"title": null, "values": [0, 10, 20, 30, 40, 50, 60]}
            },
            "color": {
              "field": "s", "type": "nominal",
              "scale": {"domain": ["CART return distribution", "GSPC return distribution"], "range": ["#228B22", "#FFA500"]},
              "legend": {"title": null, "orient": "top-left", "symbolType": "stroke", "symbolSize": 625}
            },
            "strokeWidth": {
              "field": "s", "type": "nominal",
              "scale": {"domain": ["CART return distribution", "GSPC return distribution"], "range": [2.5, 1]},
              "legend": {"title": null, "orient": "top-left", "symbolType": "stroke", "symbolSize": 625}
            }
          }
        }
      ]
    },
    {
      "width": 500,
      "height": 253,
      "title": {"text": "CART versus S&P500 return frequency distribution"},
      "data": {"name": "hist"},
      "mark": {"type": "bar", "stroke": "black", "strokeWidth": 1, "clip": true},
      "encoding": {
        "x": {
          "field": "bin", "type": "nominal",
          "sort": {"field": "i", "op": "min"},
          "scale": {"paddingInner": 0.3333, "paddingOuter": 1.187},
          "axis": {
            "title": "return", "titleY": 60, "titleBaseline": "alphabetic",
            "ticks": false, "labelPadding": 19, "labelAngle": 0,
            "values": ["[-0.117,-0.11)", "[-0.0689,-0.0621)", "[-0.0213,-0.0145)", "[0.0264,0.0332)", "[0.0741,0.0809)"]
          }
        },
        "xOffset": {
          "field": "s", "type": "nominal",
          "scale": {"paddingInner": 0, "paddingOuter": 0}
        },
        "y": {
          "field": "n", "type": "quantitative",
          "scale": {"domain": [-0.7, 137.5], "nice": false, "zero": false},
          "axis": {"title": "frequency", "titleX": -50, "titleY": 126.5, "titleAngle": 270, "titleBaseline": "alphabetic", "titleAlign": "center", "values": [0, 20, 40, 60, 80, 100, 120]}
        },
        "color": {
          "field": "s", "type": "nominal",
          "scale": {"domain": ["CART return frequency", "GSPC return frequency"], "range": ["#0000FF", "#FFFF00"]},
          "legend": {"title": null, "orient": "top-right", "symbolType": "square", "symbolSize": 64, "symbolStrokeColor": "black", "symbolStrokeWidth": 1, "symbolOffset": 1, "labelOffset": 10}
        }
      }
    }
  ]
}
